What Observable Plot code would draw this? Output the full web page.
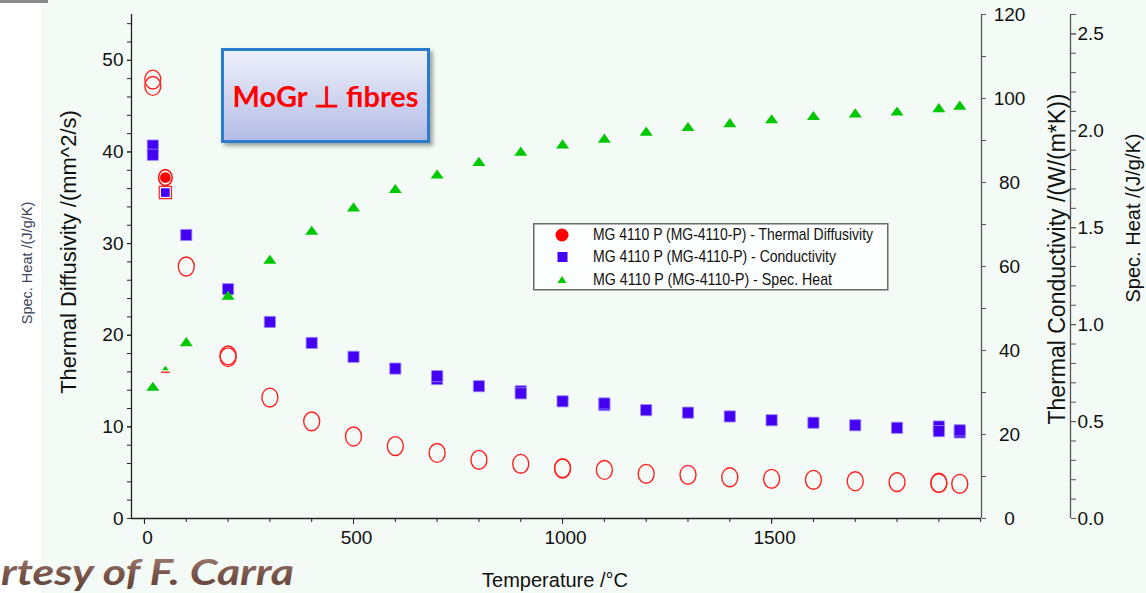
<!DOCTYPE html>
<html><head><meta charset="utf-8">
<script src="https://cdn.jsdelivr.net/npm/d3@7"></script>
<script src="https://cdn.jsdelivr.net/npm/@observablehq/plot@0.6"></script>
<style>
html,body{margin:0;padding:0;background:#fff;}
#wrap{position:relative;width:1146px;height:593px;overflow:hidden;background:#f4fbf6;font-family:"Liberation Sans",Arial,sans-serif;}
#whiteband{position:absolute;left:0;top:0;width:41px;height:593px;background:#fff;}
#topline{position:absolute;left:0;top:0;width:48px;height:3px;background:#8a8a8a;}
#chart{position:absolute;left:0;top:0;}
#title{position:absolute;left:221px;top:48px;width:203px;height:89px;border:3px solid #2a7ccc;background:linear-gradient(#eef0fa,#b5bce5);box-shadow:3px 3px 4px rgba(0,0,0,0.35);display:flex;align-items:center;justify-content:center;color:#ff0000;font:bold 29px Lato,"Open Sans",sans-serif;}
#legend{position:absolute;left:533px;top:223px;}
#overlay{position:absolute;left:0;top:0;pointer-events:none;}
</style></head>
<body><div id="wrap">
<div id="whiteband"></div>
<div id="topline"></div>
<div id="chart"></div>
<div id="title">MoGr ⊥ fibres</div>
<div id="legend"></div>
<svg id="overlay" width="1146" height="593"></svg>
</div>
<script>
// ---- data ----
const temps = [20, 50, 100, 200, 300, 400, 500, 600, 700, 800, 900, 1000, 1100, 1200, 1300, 1400, 1500, 1600, 1700, 1800, 1900, 1950];
const diffusivity = [47.2, 37.2, 27.5, 17.8, 13.2, 10.6, 8.95, 7.9, 7.15, 6.4, 5.97, 5.5, 5.3, 4.88, 4.77, 4.5, 4.33, 4.22, 4.07, 3.97, 3.9, 3.79];
const conductivity = [86.6, 77.6, 67.5, 54.6, 46.8, 41.8, 38.5, 35.7, 33.9, 31.5, 29.8, 27.9, 27.4, 25.8, 25.2, 24.3, 23.4, 22.8, 22.2, 21.6, 20.8, 21.0];
const specHeat = [0.68, 0.775, 0.91, 1.15, 1.335, 1.485, 1.605, 1.70, 1.775, 1.84, 1.893, 1.93, 1.96, 1.996, 2.02, 2.04, 2.06, 2.077, 2.09, 2.10, 2.117, 2.13];
const diffRepeatT = [20, 200, 1000, 1900];
const diffRepeat = [47.9, 17.6, 5.45, 3.85];
const condRepeatT = [20, 700, 900, 1100, 1900, 1950];
const condRepeat = [88.8, 33.2, 30.3, 27.0, 21.9, 20.5];
const selectedT = 50;

const xMajorTicks = [0, 500, 1000, 1500];
const xMinorTicks = d3.range(0, 2001, 100);
const diffMajorTicks = [0, 10, 20, 30, 40, 50];
const diffMinorTicks = d3.range(0, 55.1, 2);
const condMajorTicks = [0, 20, 40, 60, 80, 100, 120];
const condMinorTicks = [10, 30, 50, 70, 90, 110];
const cpMajorTicks = [0, 0.5, 1.0, 1.5, 2.0, 2.5];
const cpMinorTicks = d3.range(0, 26).map(i => i / 10).concat([2.6]);

const legendLabels = [
  "MG 4110 P (MG-4110-P) - Thermal Diffusivity",
  "MG 4110 P (MG-4110-P) - Conductivity",
  "MG 4110 P (MG-4110-P) - Spec. Heat"
];

// ---- scales ----
const xDomain = [-31, 2002];
const diffMax = 55, condMax = 120, cpMax = 2.6;
const condToLeft = v => v * diffMax / condMax;
const cpToLeft = v => v * diffMax / cpMax;

const rows = temps.map((T, i) => ({T, diff: diffusivity[i], cond: conductivity[i], cp: specHeat[i]}));
const normal = rows.filter(d => d.T !== selectedT);
const sel = rows.filter(d => d.T === selectedT);
const diffRep = diffRepeatT.map((T, i) => ({T, diff: diffRepeat[i]}));
const condRep = condRepeatT.map((T, i) => ({T, cond: condRepeat[i]}));

const ellipse = {draw(ctx, size) {
  const r = Math.sqrt(size / Math.PI), rx = r, ry = r * 1.18, k = 0.5523;
  ctx.moveTo(rx, 0);
  ctx.bezierCurveTo(rx, ry * k, rx * k, ry, 0, ry);
  ctx.bezierCurveTo(-rx * k, ry, -rx, ry * k, -rx, 0);
  ctx.bezierCurveTo(-rx, -ry * k, -rx * k, -ry, 0, -ry);
  ctx.bezierCurveTo(rx * k, -ry, rx, -ry * k, rx, 0);
  ctx.closePath();
}};
const tri = {draw(ctx, size) {
  const r = Math.sqrt(size / Math.PI), h = r * 1.4;
  ctx.moveTo(0, -h * 0.55); ctx.lineTo(r, h * 0.45); ctx.lineTo(-r, h * 0.45); ctx.closePath();
}};
const hline = {draw(ctx, size) {
  const r = Math.sqrt(size / Math.PI);
  ctx.moveTo(-r, 0); ctx.lineTo(r, 0);
}};

const axisCol = "#222", axisCol2 = "#555";
const font = '"Liberation Sans", Arial, sans-serif';

const chart = Plot.plot({
  width: 1146, height: 593,
  marginLeft: 131, marginRight: 165, marginTop: 14, marginBottom: 75,
  x: {domain: xDomain, label: null},
  y: {domain: [0, diffMax], label: null},
  style: {background: "transparent", fontFamily: font, color: "#111", overflow: "visible"},
  marks: [
    // axis lines
    Plot.ruleY([0], {stroke: axisCol, strokeWidth: 1.3}),
    Plot.ruleX([xDomain[0]], {stroke: axisCol, strokeWidth: 1.3}),
    Plot.ruleX([xDomain[1]], {stroke: axisCol2, strokeWidth: 1.3}),
    Plot.ruleX([xDomain[1]], {stroke: axisCol2, strokeWidth: 1.3, dx: 89}),
    // x axis
    Plot.axisX(xMinorTicks, {tickSize: 4, tickFormat: () => "", stroke: axisCol, label: null}),
    Plot.axisX(xMajorTicks, {tickSize: 6, tickFormat: () => "", stroke: axisCol, label: null}),
    Plot.axisX(xMajorTicks, {tickSize: 0, tickPadding: 12, dx: 3, fontSize: 19, tickFormat: d3.format("d"), fill: "#111", label: null}),
    // left axis (diffusivity)
    Plot.axisY(diffMinorTicks, {anchor: "left", tickSize: 4, tickFormat: () => "", stroke: axisCol, label: null}),
    Plot.axisY(diffMajorTicks, {anchor: "left", tickSize: 4, tickPadding: 4, fontSize: 19, tickFormat: d3.format("d"), stroke: axisCol, fill: "#111", label: null}),
    // right axis (conductivity)
    Plot.axisY(condMinorTicks.map(condToLeft), {anchor: "right", tickSize: 4, tickFormat: () => "", stroke: axisCol2, label: null}),
    Plot.axisY(condMajorTicks.map(condToLeft), {anchor: "right", tickSize: 4, tickPadding: 24, textAnchor: "middle", fontSize: 19, tickFormat: d => String(Math.round(d * condMax / diffMax)), stroke: axisCol2, fill: "#111", label: null}),
    // far right axis (spec heat)
    Plot.axisY(cpMinorTicks.map(cpToLeft), {anchor: "right", dx: 89, tickSize: 5, tickFormat: () => "", stroke: axisCol2, label: null}),
    Plot.axisY(cpMajorTicks.map(cpToLeft), {anchor: "right", dx: 89, tickSize: 5, tickPadding: 2, fontSize: 19, tickFormat: d => d3.format(".1f")(d * cpMax / diffMax), stroke: axisCol2, fill: "#111", label: null}),
    // thermal diffusivity
    Plot.dot(diffRep, {x: "T", y: "diff", symbol: ellipse, r: 8, stroke: "#ff2222", strokeWidth: 1.3, fill: "none"}),
    Plot.dot(normal, {x: "T", y: "diff", symbol: ellipse, r: 8, stroke: "#ff2222", strokeWidth: 1.4, fill: "none"}),
    Plot.dot(sel, {x: "T", y: "diff", symbol: ellipse, r: 6.8, stroke: "#ff1111", strokeWidth: 1.6, fill: "none"}),
    Plot.dot(sel, {x: "T", y: "diff", r: 5.3, fill: "#ff0000"}),
    // conductivity
    Plot.dot(condRep, {x: "T", y: d => condToLeft(d.cond), symbol: "square", r: 6.3, fill: "#4400f2", stroke: "#9a88ff", strokeWidth: 0.8}),
    Plot.dot(normal, {x: "T", y: d => condToLeft(d.cond), symbol: "square", r: 6.3, fill: "#4400f2", stroke: "#9a88ff", strokeWidth: 0.8}),
    Plot.dot(sel, {x: "T", y: d => condToLeft(d.cond), symbol: "square", r: 6.9, fill: "#f4fbf6", stroke: "#ff2222", strokeWidth: 1.2}),
    Plot.dot(sel, {x: "T", y: d => condToLeft(d.cond), symbol: "square", r: 4.9, fill: "#4400f2"}),
    // spec heat
    Plot.dot(normal, {x: "T", y: d => cpToLeft(d.cp), symbol: tri, r: 6.5, fill: "#00c800"}),
    Plot.dot(sel, {x: "T", y: d => cpToLeft(d.cp), symbol: hline, r: 4.5, stroke: "#ff4040", strokeWidth: 1.6, dy: 4}),
    Plot.dot(sel, {x: "T", y: d => cpToLeft(d.cp), symbol: tri, r: 3.2, fill: "#00c800"})
  ]
});
document.getElementById("chart").appendChild(chart);

// ---- axis titles & annotations ----
const ov = d3.select("#overlay");
function vtext(x, y, str, size, color) {
  ov.append("text").attr("transform", `translate(${x},${y}) rotate(-90)`)
    .attr("text-anchor", "middle").attr("dominant-baseline", "central")
    .attr("font-family", font).attr("font-size", size).attr("fill", color).text(str);
}
vtext(68, 252, "Thermal Diffusivity /(mm^2/s)", 22, "#111");
vtext(1057, 259, "Thermal Conductivity /(W/(m*K))", 23, "#111");
vtext(1133, 218, "Spec. Heat /(J/g/K)", 20, "#111");
vtext(27, 263, "Spec. Heat /(J/g/K)", 14.5, "#3d4560");
ov.append("text").attr("x", 555).attr("y", 580).attr("text-anchor", "middle").attr("dominant-baseline", "central")
  .attr("font-family", font).attr("font-size", 20).attr("fill", "#111").text("Temperature /°C");

const defs = ov.append("defs");
const g = defs.append("linearGradient").attr("id", "cgrad").attr("x1", 0).attr("y1", 0).attr("x2", 0).attr("y2", 1);
g.append("stop").attr("offset", "0%").attr("stop-color", "#a88a80");
g.append("stop").attr("offset", "55%").attr("stop-color", "#7a564b");
g.append("stop").attr("offset", "100%").attr("stop-color", "#5e3f36");
ov.append("text").attr("x", 1).attr("y", 585).attr("text-anchor", "start")
  .attr("font-family", "Lato, 'Open Sans', sans-serif").attr("font-weight", "bold").attr("font-style", "italic")
  .attr("font-size", 36).attr("textLength", 293).attr("lengthAdjust", "spacingAndGlyphs")
  .attr("fill", "url(#cgrad)").text("rtesy of F. Carra");

// ---- legend ----
const lg = d3.select("#legend").append("svg").attr("width", 356).attr("height", 68);
lg.append("rect").attr("x", 0.75).attr("y", 0.75).attr("width", 354).attr("height", 66)
  .attr("fill", "#fbfefc").attr("stroke", "#6a6a6a").attr("stroke-width", 1.5);
const rowsY = [12, 34, 57];
const lens = [280, 243, 239];
lg.append("circle").attr("cx", 29).attr("cy", rowsY[0]).attr("r", 6.5).attr("fill", "#ff0000");
lg.append("rect").attr("x", 24.5).attr("y", rowsY[1] - 5).attr("width", 10).attr("height", 10).attr("fill", "#4400f2");
lg.append("path").attr("d", `M29,${rowsY[2] - 4} L33.5,${rowsY[2] + 3} L24.5,${rowsY[2] + 3} Z`).attr("fill", "#00c800");
legendLabels.forEach((t, i) => {
  lg.append("text").attr("transform", `translate(60,${rowsY[i] + 5}) scale(1,1.15)`)
    .attr("font-family", font).attr("font-size", 14).attr("fill", "#111")
    .attr("textLength", lens[i]).attr("lengthAdjust", "spacingAndGlyphs").text(t);
});
</script>
</body></html>
